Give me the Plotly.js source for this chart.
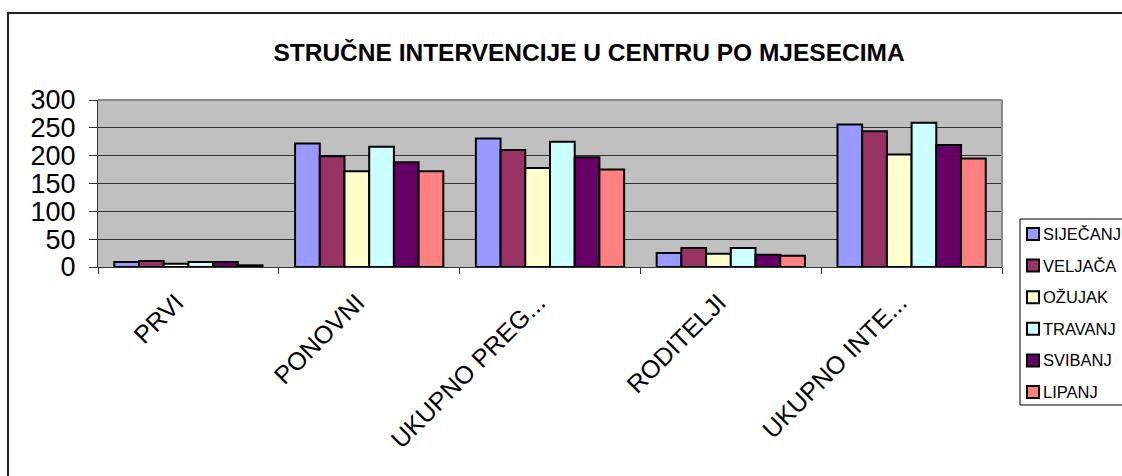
<!DOCTYPE html>
<html>
<head>
<meta charset="utf-8">
<script src="https://cdn.plot.ly/plotly-3.0.1.min.js"></script>
<style>
  html, body { margin: 0; padding: 0; overflow: hidden; background: #fff; }
  #plot { width: 1122px; height: 476px; }
  /* outer chart frame, runs off the right and bottom edge like in the original */
  #frame {
    position: absolute; left: 7px; top: 12px; width: 2000px; height: 2000px;
    border-left: 2px solid #222; border-top: 2px solid #222; pointer-events: none;
  }
</style>
</head>
<body>
<div id="plot"></div>
<div id="frame"></div>
<script>
// categories (x axis)
const categories = ["PRVI", "PONOVNI", "UKUPNO PREG...", "RODITELJI", "UKUPNO INTE..."];

// one series per month
const months = ["SIJEČANJ", "VELJAČA", "OŽUJAK", "TRAVANJ", "SVIBANJ", "LIPANJ"];
const sijecanj = [9, 222, 231, 25, 256];
const veljaca  = [11, 199, 210, 34, 244];
const ozujak   = [6, 172, 178, 24, 202];
const travanj  = [9, 216, 225, 34, 259];
const svibanj  = [9, 188, 197, 22, 219];
const lipanj   = [3, 172, 175, 20, 195];

const yTicks = [0, 50, 100, 150, 200, 250, 300];

const series = [sijecanj, veljaca, ozujak, travanj, svibanj, lipanj];
const colors = ["#9999FF", "#993366", "#FFFFCC", "#CCFFFF", "#660066", "#FF8080"];

const FONT = "Liberation Sans, Arial, sans-serif";

const traces = series.map((vals, i) => ({
  type: "bar",
  name: months[i],
  x: categories,
  y: vals,
  marker: { color: colors[i], line: { color: "#000", width: 2 } },
  hoverinfo: "x+y+name"
}));

// plot area in pixels: x 98..1002, y 100..267
const L = 98, R = 120, T = 100, B = 209;
const W = 1122 - L - R, H = 476 - T - B;
const px = v => (v - L) / W;          // pixel -> paper x
const py = v => (476 - B - v) / H;    // pixel -> paper y

// Legende von Hand (Plotly schiebt seine eigene Legende sonst ins Bild)
const legTop = 219, legBottom = 405, legLeft = 1020;
const legRow0 = 234, legStep = 31.6;
const legendShapes = [
  { type: "rect", xref: "paper", yref: "paper",
    x0: px(legLeft), x1: px(1140), y0: py(legBottom), y1: py(legTop),
    line: { color: "#000", width: 1 }, fillcolor: "#fff", layer: "above" }
];
const legendLabels = [];
months.forEach((m, i) => {
  const cy = legRow0 + i * legStep;
  legendShapes.push({
    type: "rect", xref: "paper", yref: "paper",
    x0: px(1027), x1: px(1039), y0: py(cy + 6), y1: py(cy - 6),
    fillcolor: colors[i], line: { color: "#000", width: 2 }, layer: "above"
  });
  legendLabels.push({
    xref: "paper", yref: "paper", x: px(1041), y: py(cy),
    xanchor: "left", yanchor: "middle", showarrow: false,
    text: m, font: { family: FONT, size: 16.5, color: "#000" }
  });
});

const layout = {
  width: 1122,
  height: 476,
  margin: { l: L, r: R, t: T, b: B },
  paper_bgcolor: "#fff",
  plot_bgcolor: "#C0C0C0",
  font: { family: FONT, color: "#000" },
  title: {
    text: "<b>STRUČNE INTERVENCIJE U CENTRU PO MJESECIMA</b>",
    font: { family: FONT, size: 24.5, color: "#000" },
    xref: "container", x: 589 / 1122, xanchor: "center",
    yref: "container", y: 1 - 52 / 476, yanchor: "middle"
  },
  barmode: "group",
  bargap: 0.18,
  bargroupgap: 0,
  showlegend: false,
  xaxis: {
    type: "category",
    tickson: "boundaries",
    ticks: "outside",
    ticklen: 6,
    tickcolor: "#333",
    tickangle: -45,
    tickfont: { family: FONT, size: 25, color: "#000" },
    ticklabelstandoff: 10,
    ticklabelshift: -12,
    showline: true,
    linecolor: "#333",
    linewidth: 1,
    showgrid: false,
    zeroline: false
  },
  yaxis: {
    range: [0, 300],
    tickvals: yTicks,
    ticks: "outside",
    ticklen: 8,
    tickcolor: "#333",
    ticklabelstandoff: 8,
    tickfont: { family: FONT, size: 27, color: "#000" },
    showline: true,
    linecolor: "#333",
    linewidth: 1,
    showgrid: true,
    gridcolor: "#333",
    gridwidth: 1,
    zeroline: false
  },
  shapes: [
    // graue Rahmenlinien oben und rechts vom Plotbereich
    { type: "line", xref: "paper", yref: "paper", x0: 0, x1: 1, y0: 1, y1: 1,
      line: { color: "#888", width: 2 }, layer: "above" },
    { type: "line", xref: "paper", yref: "paper", x0: 1, x1: 1, y0: 0, y1: 1,
      line: { color: "#888", width: 2 }, layer: "above" }
  ].concat(legendShapes),
  annotations: legendLabels
};

Plotly.newPlot("plot", traces, layout, { displayModeBar: false, responsive: false });
</script>
</body>
</html>
